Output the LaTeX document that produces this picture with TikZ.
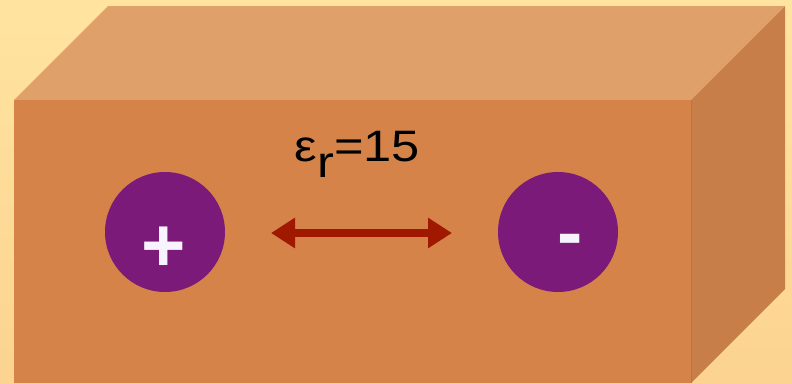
\documentclass[tikz,border=0pt]{standalone}
\usepackage{fontspec}
\setmainfont{Liberation Sans}
\usetikzlibrary{arrows.meta}
\definecolor{bgtop}{HTML}{FFE4A0}
\definecolor{bgbot}{HTML}{FCD390}
\definecolor{topface}{HTML}{E0A06A}
\definecolor{frontface}{HTML}{D6834A}
\definecolor{sideface}{HTML}{C87E48}
\definecolor{edgeline}{HTML}{C87038}
\definecolor{ionfill}{HTML}{7B1A78}
\definecolor{arrowred}{HTML}{A01800}
\definecolor{signwhite}{HTML}{F8F4FF}
\tikzset{
  ion/.style={circle, fill=ionfill, minimum size=120pt, inner sep=0pt},
  sign/.style={text=signwhite, font=\fontsize{76}{76}\selectfont\bfseries, inner sep=0pt, anchor=base},
  dist/.style={draw=arrowred, line width=8pt, {Triangle[length=24pt,width=29pt]}-{Triangle[length=24pt,width=29pt]}},
}
\begin{document}
\begin{tikzpicture}[x=1pt,y=-1pt]
\useasboundingbox (0,0) rectangle (792,383);
\shade[top color=bgtop, bottom color=bgbot] (0,0) rectangle (792,383);
% box faces
\fill[topface] (14,100) -- (108,6) -- (785,6) -- (691,100) -- cycle;
\fill[sideface] (691,100) -- (785,6) -- (785,289) -- (691,383) -- cycle;
\fill[frontface] (14,100) rectangle (691,383);
\draw[edgeline, line width=0.8pt] (691,100) -- (691,383);
% ions
\node[ion] (pos) at (165,232) {};
\node[ion] (neg) at (558,232) {};
\node[sign] (plus) at (164,271) {+};
\node[sign] (minus) at (570.5,258) {-};
% arrow
\coordinate (aL) at (271,233);
\coordinate (aR) at (452,233);
\draw[dist] (aL) -- (aR);
% label
\node[anchor=base, inner sep=0pt, font=\fontsize{44}{44}\selectfont] (eps) at (357.5,161) {\scalebox{1.15}[1]{ε\raisebox{-16pt}{r}=15}};
\end{tikzpicture}
\end{document}
